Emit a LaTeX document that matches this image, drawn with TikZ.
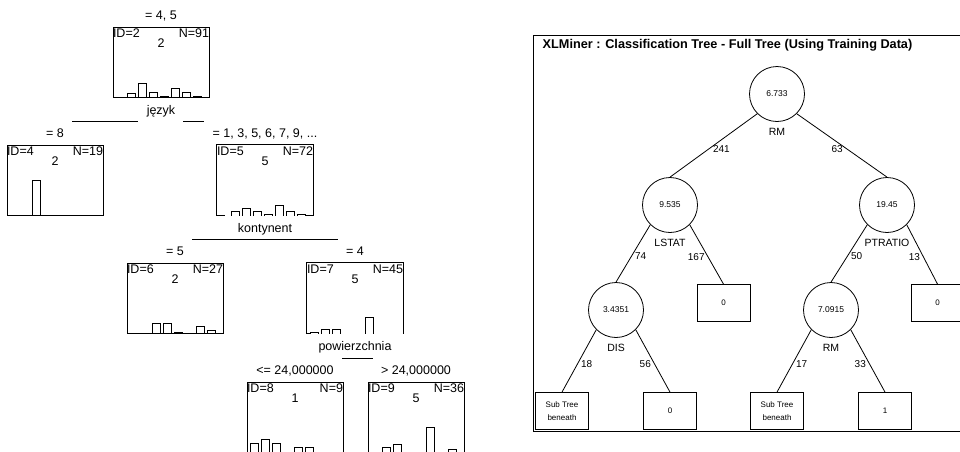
\documentclass[tikz,border=0pt]{standalone}
\usepackage{fontspec}
\setmainfont{Liberation Sans}
\usetikzlibrary{positioning, calc}
\tikzset{
    treepics/.style={x=1pt, y=-1pt, font=\fontsize{12.5}{14}\selectfont},
    split/.style={minimum width=96pt, minimum height=70pt, inner sep=0pt},
    splitbox/.style={split, draw},
    idtag/.style={anchor=north west, inner xsep=0pt, inner ysep=2pt},
    ntag/.style={anchor=north east, inner xsep=0pt, inner ysep=2pt},
    cond/.style={inner sep=1pt, text height=9pt, text depth=2pt},
    % XLMiner part
    xlsplit/.style={draw, circle, minimum size=55pt, inner sep=0pt, font=\fontsize{8.5}{10}\selectfont},
    xlleaf/.style={draw, minimum width=53pt, minimum height=37pt, inner sep=1pt, align=center, font=\fontsize{8}{13}\selectfont},
    xlvar/.style={inner sep=1pt, font=\fontsize{10.5}{12}\selectfont},
    xlcount/.style={pos=0.55, font=\fontsize{10}{12}\selectfont},
}
% histogram at the bottom of a box: slot/height
\newcommand{\hbars}[2]{%
    \foreach \s/\h in {#2}
        \draw ($(#1.south west)+(4+11*\s,0)$) -- ++(0,-\h) -- ++(8,0) -- ++(0,\h);
}

\begin{document}
\begin{tikzpicture}[treepics, line width=1pt]
    \useasboundingbox (0,0) rectangle (960,451);
    \clip (0,0) rectangle (960,451);

    % STATISTICA tree
    \node[splitbox] (id2) at (161,62)  {};
    \node[splitbox] (id4) at (55,180)  {};
    \node[split]    (id5) at (265,180) {};
    \node[splitbox] (id6) at (175,298) {};
    \node[split]    (id7) at (355,298) {};
    \node[splitbox] (id8) at (295,417) {};
    \node[splitbox] (id9) at (416,417) {};

    % open bottoms of the split boxes
    \draw ($(id5.south west)+(8,0)$) -- (id5.south west) -- (id5.north west) -- (id5.north east) -- (id5.south east) -- ++(-8,0);
    \draw ($(id7.south west)+(4,0)$) -- (id7.south west) -- (id7.north west) -- (id7.north east) -- (id7.south east);

    \foreach \bx/\idn/\cnt/\cls in {id2/2/91/2, id4/4/19/2, id5/5/72/5, id6/6/27/2, id7/7/45/5, id8/8/9/1, id9/9/36/5} {
        \node[idtag] (\bx-id) at (\bx.north west) {ID=\idn};
        \node[ntag]  (\bx-n)  at (\bx.north east) {N=\cnt};
        \node        (\bx-c)  at ($(\bx.north)+(0,17)$) {\cls};
    }

    \hbars{id2}{1/4, 2/14, 3/5, 4/1, 5/9, 6/5, 7/1.5}
    \hbars{id4}{2/35}
    \hbars{id5}{1/4, 2/7, 3/4, 4/1, 5/10, 6/4, 7/1.5}
    \hbars{id6}{2/10, 3/10, 4/1.5, 6/7, 7/3}
    \hbars{id7}{0/1, 1/4, 2/4, 5/16}
    \hbars{id8}{0/9, 1/13, 2/9, 4/5, 5/5}
    \hbars{id9}{1/5, 2/8, 5/25, 7/3}

    \node[cond, above=4pt of id2] (c2) {= 4, 5};
    \node[cond, above=4pt of id4] (c4) {= 8};
    \node[cond, above=4pt of id5] (c5) {= 1, 3, 5, 6, 7, 9, ...};
    \node[cond, above=4pt of id6] (c6) {= 5};
    \node[cond, above=4pt of id7] (c7) {= 4};
    \node[cond, above=4pt of id8] (c8) {<= 24,000000};
    \node[cond, above=4pt of id9] (c9) {> 24,000000};
    \node[cond, below=6pt of id2] (v2) {język};
    \node[cond, below=6pt of id5] (v5) {kontynent};
    \node[cond, below=6pt of id7] (v7) {powierzchnia};

    % split bars
    \draw[dash pattern=on 66pt off 45pt on 200pt] ([shift={(7pt,5.5pt)}]c4.north east) -- ([shift={(-7pt,5.5pt)}]c5.north west);
    \draw ([shift={(7pt,5.5pt)}]c6.north east) -- ([shift={(-7pt,5.5pt)}]c7.north west);
    \draw ([shift={(7pt,5.5pt)}]c8.north east) -- ([shift={(-7pt,5.5pt)}]c9.north west);

    % XLMiner tree
    \begin{scope}[line width=0.8pt]
        \node[draw, minimum width=450pt, minimum height=396pt, inner sep=0pt, anchor=north west] (frame) at (533,35) {};
        \node[anchor=west, font=\fontsize{12.7}{14}\selectfont\bfseries] (title) at ($(frame.north west)+(6,10)$) {XLMiner : Classification Tree - Full Tree (Using Training Data)};

        \node[xlsplit] (root)    at (777,94)  {6.733};
        \node[xlsplit] (lstat)   at (670,205) {9.535};
        \node[xlsplit] (ptratio) at (887,205) {19.45};
        \node[xlsplit] (dis)     at (616,310) {3.4351};
        \node[xlsplit] (rm)      at (831,310) {7.0915};
        \node[xlvar, below=5pt of root]    (vroot)    {RM};
        \node[xlvar, below=5pt of lstat]   (vlstat)   {LSTAT};
        \node[xlvar, below=5pt of ptratio] (vptratio) {PTRATIO};
        \node[xlvar, below=5pt of dis]     (vdis)     {DIS};
        \node[xlvar, below=5pt of rm]      (vrm)      {RM};

        \node[xlleaf] (l1) at (723.5,303) {0};
        \node[xlleaf] (l2) at (937.5,303) {0};
        \node[xlleaf] (l3) at (562,411)   {Sub Tree\\beneath};
        \node[xlleaf] (l4) at (670,411)   {0};
        \node[xlleaf] (l5) at (777,411)   {Sub Tree\\beneath};
        \node[xlleaf] (l6) at (885,411)   {1};

        \draw (root.225) -- node[xlcount, right] {241} (lstat.north);
        \draw (root.-45) -- node[xlcount, left] {63} (ptratio.north);
        \draw (lstat.225) -- node[xlcount, right] {74} (dis.north);
        \draw (lstat.-45) -- node[xlcount, left] {167} (l1.north);
        \draw (ptratio.225) -- node[xlcount, right] {50} (rm.north);
        \draw (ptratio.-45) -- node[xlcount, left] {13} (l2.north);
        \draw (dis.225) -- node[xlcount, right] {18} (l3.north);
        \draw (dis.-45) -- node[xlcount, left] {56} (l4.north);
        \draw (rm.225) -- node[xlcount, right] {17} (l5.north);
        \draw (rm.-45) -- node[xlcount, left] {33} (l6.north);
    \end{scope}
\end{tikzpicture}
\end{document}
